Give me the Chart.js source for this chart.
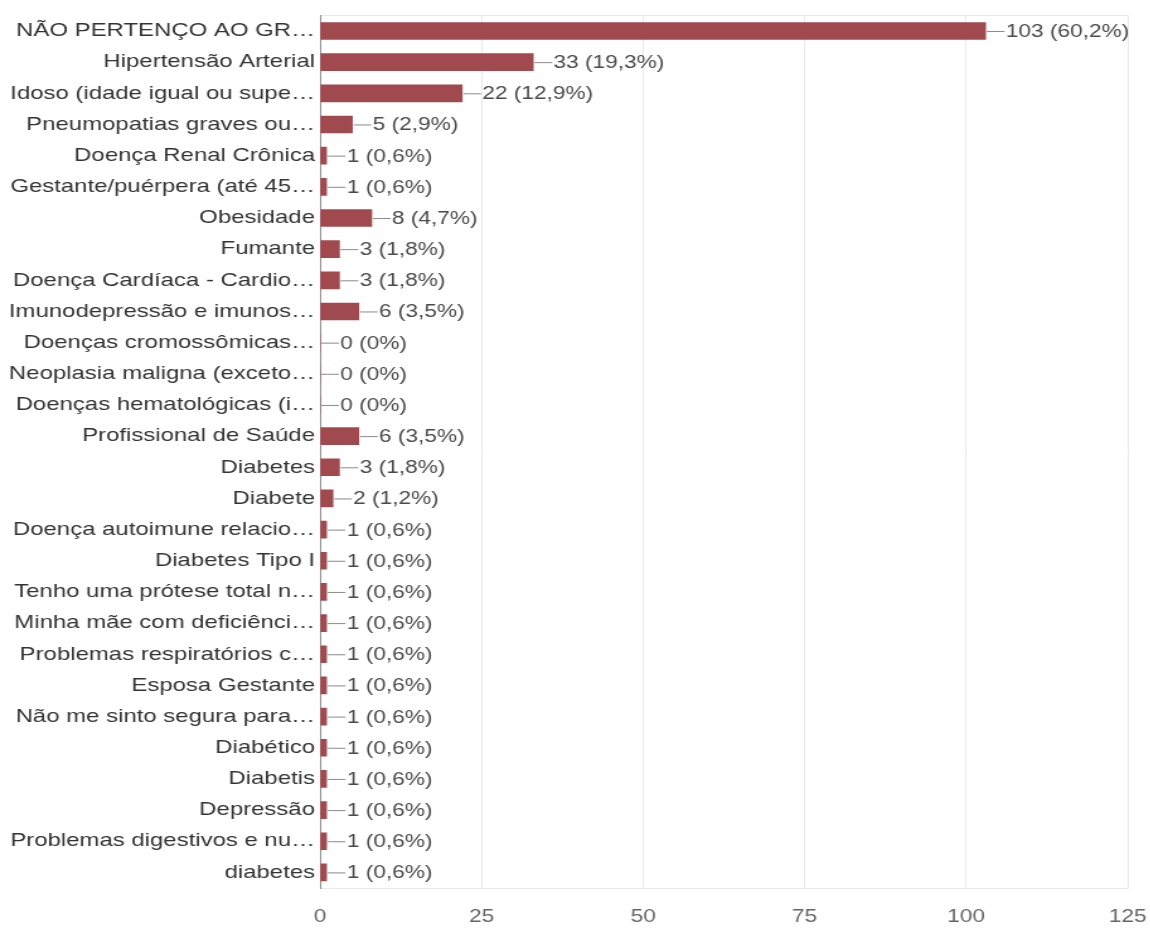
<!DOCTYPE html>
<html>
<head>
<meta charset="utf-8">
<script src="https://cdn.jsdelivr.net/npm/chart.js@4/dist/chart.umd.min.js"></script>
<style>
  body { margin: 0; background: #fff; overflow: hidden; }
  /* o grafico original aparece esticado na horizontal */
  #wrap { width: 913px; height: 930px; transform: scaleX(1.26); transform-origin: 0 0; }
</style>
</head>
<body>
<div id="wrap"><canvas id="grafico" width="913" height="930"></canvas></div>
<script>
const categorias = [
  "NÃO PERTENÇO AO GR…",
  "Hipertensão Arterial",
  "Idoso (idade igual ou supe…",
  "Pneumopatias graves ou…",
  "Doença Renal Crônica",
  "Gestante/puérpera (até 45…",
  "Obesidade",
  "Fumante",
  "Doença Cardíaca - Cardio…",
  "Imunodepressão e imunos…",
  "Doenças cromossômicas…",
  "Neoplasia maligna (exceto…",
  "Doenças hematológicas (i…",
  "Profissional de Saúde",
  "Diabetes",
  "Diabete",
  "Doença autoimune relacio…",
  "Diabetes Tipo I",
  "Tenho uma prótese total n…",
  "Minha mãe com deficiênci…",
  "Problemas respiratórios c…",
  "Esposa Gestante",
  "Não me sinto segura para…",
  "Diabético",
  "Diabetis",
  "Depressão",
  "Problemas digestivos e nu…",
  "diabetes"
];
const respostas = [103, 33, 22, 5, 1, 1, 8, 3, 3, 6, 0, 0, 0, 6, 3, 2, 1, 1, 1, 1, 1, 1, 1, 1, 1, 1, 1, 1];
const percentuais = ["60,2%", "19,3%", "12,9%", "2,9%", "0,6%", "0,6%", "4,7%", "1,8%", "1,8%", "3,5%",
  "0%", "0%", "0%", "3,5%", "1,8%", "1,2%", "0,6%", "0,6%", "0,6%", "0,6%", "0,6%", "0,6%", "0,6%",
  "0,6%", "0,6%", "0,6%", "0,6%", "0,6%"];
const ticksX = [0, 25, 50, 75, 100, 125];

const fonte = '"Liberation Sans", Arial, sans-serif';

// rotulo com tracinho no fim de cada barra
const rotulos = {
  id: 'rotulos',
  afterDatasetsDraw(chart) {
    const ctx = chart.ctx;
    const meta = chart.getDatasetMeta(0);
    ctx.save();
    ctx.font = '18px ' + fonte;
    ctx.textBaseline = 'middle';
    ctx.textAlign = 'left';
    meta.data.forEach((bar, i) => {
      const x = bar.x, y = bar.y;
      ctx.strokeStyle = '#8a8a8a';
      ctx.lineWidth = 1;
      ctx.beginPath();
      ctx.moveTo(x + 1, y + 0.5);
      ctx.lineTo(x + 15, y + 0.5);
      ctx.stroke();
      ctx.fillStyle = '#4a4a4a';
      ctx.fillText(respostas[i] + ' (' + percentuais[i] + ')', x + 16, y + 1);
    });
    ctx.restore();
  }
};

const graph = new Chart(document.getElementById('grafico').getContext('2d'), {
  type: 'bar',
  data: {
    labels: categorias,
    datasets: [{
      label: "Respostas",
      data: respostas,
      backgroundColor: '#a04a4f',
      borderWidth: 0,
      barThickness: 17
    }]
  },
  options: {
    indexAxis: 'y',
    responsive: false,
    animation: false,
    layout: { padding: { left: 0, right: 18, top: 14, bottom: 0 } },
    plugins: { legend: { display: false }, tooltip: { enabled: false } },
    scales: {
      x: {
        min: 0,
        max: 125,
        afterBuildTicks: s => { s.ticks = ticksX.map(v => ({ value: v })); },
        grid: { color: '#e9e9e9', drawTicks: false },
        border: { display: true, color: '#e9e9e9' },
        ticks: {
          color: '#666',
          padding: 18,
          font: { family: fonte, size: 18 }
        },
        afterFit: s => { s.height = 42; s.paddingRight = 0; s.paddingLeft = 0; }
      },
      y: {
        grid: {
          offset: true,
          drawTicks: false,
          color: c => (c.index === 0 || c.index === categorias.length) ? '#e9e9e9' : 'rgba(0,0,0,0)'
        },
        border: { display: true, color: '#8c8c8c' },
        ticks: {
          color: '#333',
          padding: 4,
          autoSkip: false,
          font: { family: fonte, size: 19 }
        },
        afterFit: s => { s.width = 254; }
      }
    }
  },
  plugins: [rotulos]
});
</script>
</body>
</html>
